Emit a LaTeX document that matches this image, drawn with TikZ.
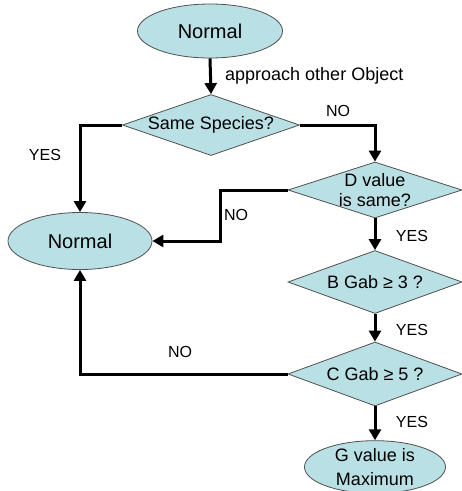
\documentclass[tikz,border=0pt]{standalone}
\usepackage{fontspec}
\setmainfont{Liberation Sans}
\usetikzlibrary{shapes.geometric,arrows.meta}
\definecolor{boxfill}{RGB}{185,224,228}
\definecolor{boxline}{RGB}{80,80,80}
\tikzset{
  x=1pt,y=-1pt,
  term/.style={ellipse,draw=boxline,fill=boxfill,line width=0.8pt,inner sep=0pt,align=center,font=\fontsize{18}{24}\selectfont},
  decide/.style={diamond,draw=boxline,fill=boxfill,line width=0.8pt,inner sep=0pt},
  dtext/.style={align=center,inner sep=0pt,font=\fontsize{18}{20}\selectfont},
  arr/.style={line width=3pt,-{Triangle[length=11pt,width=12pt]}},
  lab/.style={font=\fontsize{16}{18}\selectfont,inner sep=0pt}
}
\begin{document}
\begin{tikzpicture}
\useasboundingbox[fill=white] (0,0) rectangle (462,491);
\node[term,minimum width=145pt,minimum height=54pt,font=\fontsize{20}{22}\selectfont] (n1) at (210,31) {Normal};
\node[decide,minimum width=177pt,minimum height=61pt] (d1) at (211,125) {};
\node[dtext] (t1) at (d1) {Same Species?};
\node[term,minimum width=144pt,minimum height=57pt,font=\fontsize{20}{22}\selectfont] (n2) at (80,241) {Normal};
\node[decide,minimum width=174pt,minimum height=56pt] (d2) at (375,190) {};
\node[dtext] (t2) at (d2) {D value\\is same?};
\node[decide,minimum width=174pt,minimum height=63pt] (d3) at (375,282) {};
\node[dtext] (t3) at (d3) {B Gab ≥ 3 ?};
\node[decide,minimum width=174pt,minimum height=64pt] (d4) at (375,374) {};
\node[dtext] (t4) at (d4) {C Gab ≥ 5 ?};
\node[term,minimum width=141pt,minimum height=48pt] (n3) at (375,467) {G value is\\Maximum};

\draw[arr] (n1.south) -- (d1.north);
\draw[arr] (d1.west) -| (n2.north);
\draw[arr] (d1.east) -| (d2.north);
\coordinate (k1) at (220,190);
\draw[arr] (d2.west) -- (k1) |- (n2.east);
\draw[arr] (d2.south) -- (d3.north);
\draw[arr] (d3.south) -- (d4.north);
\draw[arr] (d4.south) -- (n3.north);
\draw[arr] (d4.west) -| (n2.south);

\node[lab,anchor=west,font=\fontsize{18}{20}\selectfont] (l1) at (225,76) {approach other Object};
\node[lab] (l2) at (45,155) {YES};
\node[lab] (l3) at (338,111) {NO};
\node[lab] (l4) at (236,215) {NO};
\node[lab] (l5) at (412,236) {YES};
\node[lab] (l6) at (412,330) {YES};
\node[lab] (l7) at (412,422) {YES};
\node[lab] (l8) at (180,352) {NO};
\end{tikzpicture}
\end{document}
